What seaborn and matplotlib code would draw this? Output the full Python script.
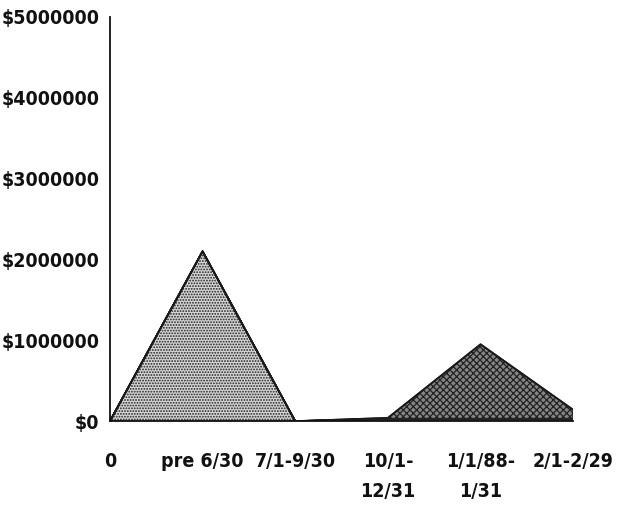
import numpy as np
import pandas as pd
import matplotlib
matplotlib.use('Agg')
import matplotlib.pyplot as plt
import seaborn as sns

sns.set_style('white')
plt.rcParams['font.family'] = ['DejaVu Sans']
plt.rcParams['font.stretch'] = 'condensed'
plt.rcParams['hatch.linewidth'] = 0.9

# quarterly amounts
periods = ['0', 'pre 6/30', '7/1-9/30', '10/1-\n12/31', '1/1/88-\n1/31', '2/1-2/29']
early = [0, 2100000, 0, 0, 0, 0]
base_strip = [0, 0, 0, 30000, 30000, 30000]
late = [0, 0, 0, 10000, 920000, 110000]
y_ticks = [0, 1000000, 2000000, 3000000, 4000000, 5000000]
y_labels = ['$0', '$1000000', '$2000000', '$3000000', '$4000000', '$5000000']

pos = np.arange(len(periods))
fig = plt.figure(figsize=(6.21, 5.08), dpi=100)
ax = fig.add_axes([0.177, 0.171, 0.746, 0.796])

polys = ax.stackplot(pos, early, base_strip, late,
                     colors=['#d6d6d6', '#cfcfcf', '#858585'],
                     edgecolor='#222222', linewidth=1.2)
polys[0].set_hatch('......')
polys[1].set_hatch('---')
polys[2].set_hatch('xxxxx')

# outline of the stacked tops
tops = pd.DataFrame({'x': pos, 'y': np.array(early) + np.array(base_strip) + np.array(late)})
sns.lineplot(data=tops, x='x', y='y', color='#1a1a1a', linewidth=1.3, ax=ax)

ax.set_xlim(0, len(periods) - 1)
ax.set_ylim(0, 5000000)
ax.set_xticks(pos)
ax.set_xticklabels(periods, fontsize=14, fontweight='bold', linespacing=1.75)
ax.set_yticks(y_ticks)
ax.set_yticklabels(y_labels, fontsize=14, fontweight='bold')
ax.set_xlabel('')
ax.set_ylabel('')

for s in ['top', 'right']:
    ax.spines[s].set_visible(False)
ax.spines['left'].set_color('#111111')
ax.spines['bottom'].set_color('#111111')
ax.spines['left'].set_linewidth(1.3)
ax.spines['bottom'].set_linewidth(1.3)
ax.tick_params(axis='y', direction='inout', length=9, width=1.2, pad=3, colors='#111111')
ax.tick_params(axis='x', direction='out', length=6, width=1.2, pad=16, colors='#111111')

fig.savefig('out.png', dpi=100)
